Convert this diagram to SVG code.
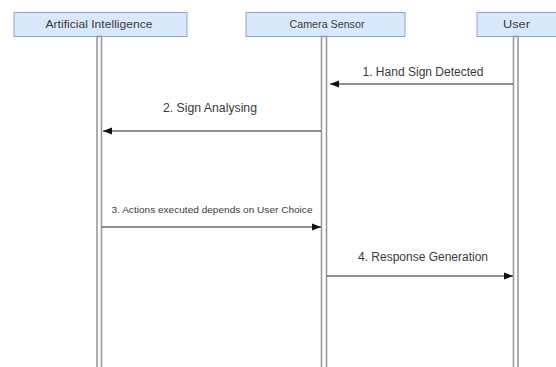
<svg xmlns="http://www.w3.org/2000/svg" width="556" height="367" viewBox="0 0 556 367">
<style>
.box{fill:#dae8fc;stroke:#8ea6c8;stroke-width:1}
.life{fill:#ffffff;stroke:#9a9a9a;stroke-width:1.6}
.t{font-family:"Liberation Sans",Arial,sans-serif;fill:#3a3a3a;text-anchor:middle}
.h{font-size:11px}
.m{font-size:12px}
.s{font-size:9px}
.c{stroke:#222222;stroke-width:1;fill:none;marker-end:url(#ah)}
</style>
<defs>
<marker id="ah" viewBox="0 0 10 10" refX="10" refY="5" markerWidth="9" markerHeight="9" markerUnits="userSpaceOnUse" orient="auto">
<path d="M0,1 L10,5 L0,9 z" fill="#111111"/>
</marker>
</defs>
<rect width="556" height="367" fill="#ffffff"/>
<g id="ai">
<rect class="box" x="14" y="12.5" width="173" height="24"/>
<rect class="life" x="97" y="36.5" width="4.5" height="335"/>
<text class="t h" x="99" y="28" textLength="107" lengthAdjust="spacingAndGlyphs">Artificial Intelligence</text>
</g>
<g id="camera">
<rect class="box" x="246" y="12.5" width="159" height="24"/>
<rect class="life" x="321.5" y="36.5" width="5" height="335"/>
<text class="t h" x="327" y="28" textLength="75" lengthAdjust="spacingAndGlyphs">Camera Sensor</text>
</g>
<g id="user">
<rect class="box" x="477" y="12.5" width="82" height="24"/>
<rect class="life" x="513.5" y="36.5" width="4.5" height="335"/>
<text class="t h" x="516.5" y="28" textLength="27" lengthAdjust="spacingAndGlyphs">User</text>
</g>
<g id="connectors">
<line class="c" x1="513" y1="84" x2="330" y2="84"/>
<text class="t m" x="423" y="76" textLength="121" lengthAdjust="spacingAndGlyphs">1. Hand Sign Detected</text>
<line class="c" x1="321" y1="131" x2="103" y2="131"/>
<text class="t m" x="210" y="112" textLength="94" lengthAdjust="spacingAndGlyphs">2. Sign Analysing</text>
<line class="c" x1="102" y1="227" x2="321" y2="227"/>
<text class="t s" x="212" y="213" textLength="201" lengthAdjust="spacingAndGlyphs">3. Actions executed depends on User Choice</text>
<line class="c" x1="327" y1="276" x2="513" y2="276"/>
<text class="t m" x="423" y="261" textLength="130" lengthAdjust="spacingAndGlyphs">4. Response Generation</text>
</g>
</svg>
